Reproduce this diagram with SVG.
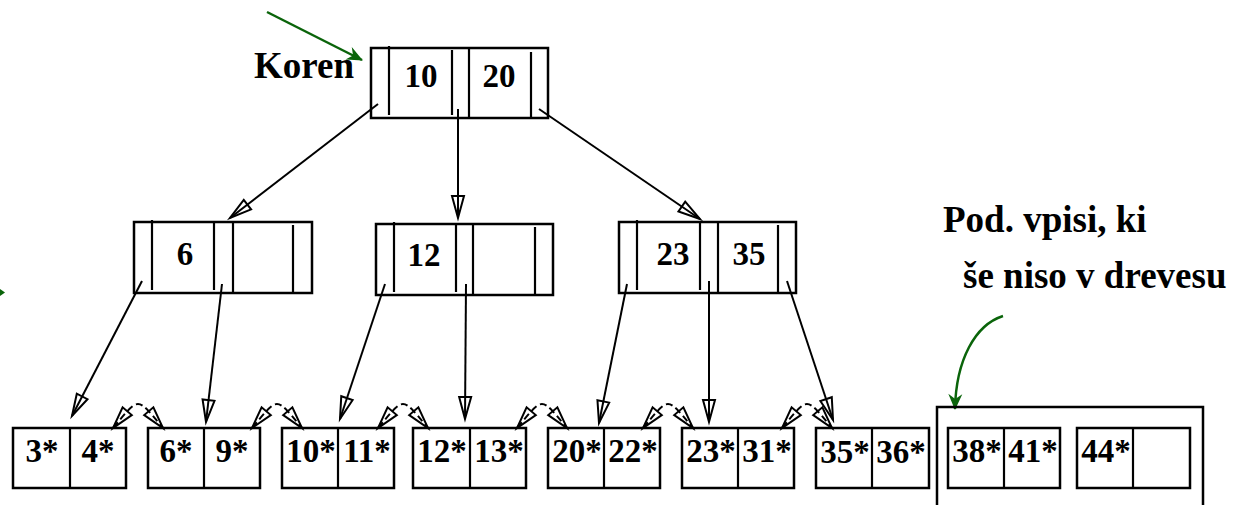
<svg xmlns="http://www.w3.org/2000/svg" width="1234" height="505" viewBox="0 0 1234 505">
<style>
.box{fill:none;stroke:#000;stroke-width:2.5}
.ln{stroke:#000;stroke-width:2.2;fill:none}
.num{font-family:"Liberation Serif","Times New Roman",serif;font-weight:bold;font-size:33px;text-anchor:middle;fill:#000}
.lbl{font-family:"Liberation Serif","Times New Roman",serif;font-weight:bold;font-size:37px;fill:#000}
.ptr{stroke:#000;stroke-width:2;fill:none;marker-end:url(#hollow)}
.arc{stroke:#000;stroke-width:2;fill:none;stroke-dasharray:7,4;marker-start:url(#hollowS);marker-end:url(#hollow)}
.grn{stroke:#0a640a;stroke-width:2.5;fill:none;marker-end:url(#garr)}
</style>
<defs>
<marker id="hollow" markerUnits="userSpaceOnUse" markerWidth="26" markerHeight="16" refX="23" refY="7" orient="auto" overflow="visible">
<path d="M1,1 L23,7 L1,13 Z" fill="none" stroke="#000" stroke-width="2"/>
</marker>
<marker id="hollowS" markerUnits="userSpaceOnUse" markerWidth="26" markerHeight="16" refX="23" refY="7" orient="auto-start-reverse" overflow="visible">
<path d="M1,1 L23,7 L1,13 Z" fill="none" stroke="#000" stroke-width="2"/>
</marker>
<marker id="garr" markerUnits="userSpaceOnUse" markerWidth="18" markerHeight="14" refX="15" refY="7" orient="auto" overflow="visible">
<path d="M0,0 L16,7 L0,14 L5,7 Z" fill="#0a640a"/>
</marker>
</defs>

<g id="connectors">
<line class="ptr" x1="378" y1="104" x2="230" y2="218"/>
<line class="ptr" x1="458" y1="109" x2="458" y2="218"/>
<line class="ptr" x1="539" y1="109" x2="700" y2="219"/>
<line class="ptr" x1="142" y1="281" x2="72" y2="416"/>
<line class="ptr" x1="222" y1="284" x2="206" y2="422"/>
<line class="ptr" x1="385" y1="284" x2="340" y2="419"/>
<line class="ptr" x1="466" y1="284" x2="465" y2="419"/>
<line class="ptr" x1="627" y1="284" x2="599" y2="423"/>
<line class="ptr" x1="709" y1="281" x2="709" y2="422"/>
<line class="ptr" x1="787" y1="281" x2="833" y2="420"/>
<path class="arc" d="M113,428 C140,396 136,396 163,428"/>
<path class="arc" d="M252,428 C279,396 275,396 302,428"/>
<path class="arc" d="M378,428 C405,396 401,396 428,428"/>
<path class="arc" d="M517,428 C544,396 540,396 567,428"/>
<path class="arc" d="M643,428 C670,396 666,396 693,428"/>
<path class="arc" d="M782,428 C809,396 805,396 832,428"/>
<line class="grn" x1="267" y1="12" x2="362" y2="60"/>
<path class="grn" d="M1003,316 C975,325 956,360 955,409"/>
<path d="M0,289 L5,292.5 L0,296 Z" fill="#0a640a"/>
</g>

<g id="label-koren"><text class="lbl" x="254" y="78">Koren</text></g>
<g id="label-pending">
<text class="lbl" x="943" y="232">Pod. vpisi, ki</text>
<text class="lbl" x="963" y="288">še niso v drevesu</text>
</g>

<g id="root">
<rect class="box" x="371" y="48" width="177" height="70"/>
<line class="ln" x1="389" y1="46" x2="389" y2="115"/>
<line class="ln" x1="452" y1="50" x2="452" y2="115"/>
<line class="ln" x1="469" y1="48" x2="469" y2="118"/>
<line class="ln" x1="531" y1="52" x2="531" y2="118"/>
<text class="num" x="421" y="87">10</text>
<text class="num" x="499" y="87">20</text>
</g>

<g id="inner-6">
<rect class="box" x="134" y="222" width="178" height="71"/>
<line class="ln" x1="152" y1="220" x2="152" y2="290"/>
<line class="ln" x1="214" y1="222" x2="214" y2="290"/>
<line class="ln" x1="233" y1="222" x2="233" y2="293"/>
<line class="ln" x1="293" y1="225" x2="293" y2="293"/>
<text class="num" x="185" y="265">6</text>
</g>

<g id="inner-12">
<rect class="box" x="376" y="224" width="177" height="71"/>
<line class="ln" x1="394" y1="222" x2="394" y2="292"/>
<line class="ln" x1="456" y1="224" x2="456" y2="292"/>
<line class="ln" x1="473" y1="224" x2="473" y2="295"/>
<line class="ln" x1="535" y1="227" x2="535" y2="295"/>
<text class="num" x="424" y="266">12</text>
</g>

<g id="inner-23-35">
<rect class="box" x="619" y="222" width="177" height="71"/>
<line class="ln" x1="637" y1="220" x2="637" y2="290"/>
<line class="ln" x1="700" y1="222" x2="700" y2="290"/>
<line class="ln" x1="718" y1="222" x2="718" y2="293"/>
<line class="ln" x1="778" y1="225" x2="778" y2="293"/>
<text class="num" x="673" y="265">23</text>
<text class="num" x="749" y="265">35</text>
</g>

<g id="leaf-1"><rect class="box" x="13" y="428" width="113" height="60"/><line class="ln" x1="70" y1="428" x2="70" y2="488"/><text class="num" x="42" y="462">3*</text><text class="num" x="98" y="462">4*</text></g>
<g id="leaf-2"><rect class="box" x="148" y="428" width="112" height="60"/><line class="ln" x1="204" y1="428" x2="204" y2="488"/><text class="num" x="176" y="462">6*</text><text class="num" x="232" y="462">9*</text></g>
<g id="leaf-3"><rect class="box" x="282" y="428" width="112" height="60"/><line class="ln" x1="338" y1="428" x2="338" y2="488"/><text class="num" x="311" y="462">10*</text><text class="num" x="367" y="462">11*</text></g>
<g id="leaf-4"><rect class="box" x="413" y="428" width="113" height="60"/><line class="ln" x1="470" y1="428" x2="470" y2="488"/><text class="num" x="442" y="462">12*</text><text class="num" x="499" y="462">13*</text></g>
<g id="leaf-5"><rect class="box" x="548" y="428" width="112" height="60"/><line class="ln" x1="604" y1="428" x2="604" y2="488"/><text class="num" x="577" y="462">20*</text><text class="num" x="633" y="462">22*</text></g>
<g id="leaf-6"><rect class="box" x="682" y="428" width="112" height="60"/><line class="ln" x1="738" y1="428" x2="738" y2="488"/><text class="num" x="711" y="462">23*</text><text class="num" x="767" y="462">31*</text></g>
<g id="leaf-7"><rect class="box" x="816" y="428" width="113" height="60"/><line class="ln" x1="872" y1="428" x2="872" y2="488"/><text class="num" x="845" y="463">35*</text><text class="num" x="901" y="463">36*</text></g>

<g id="pending-box">
<path class="box" d="M937,510 V407 H1203 V510"/>
</g>
<g id="leaf-8"><rect class="box" x="948" y="428" width="112" height="60"/><line class="ln" x1="1004" y1="428" x2="1004" y2="488"/><text class="num" x="977" y="462">38*</text><text class="num" x="1033" y="462">41*</text></g>
<g id="leaf-9"><rect class="box" x="1077" y="428" width="113" height="60"/><line class="ln" x1="1133" y1="428" x2="1133" y2="488"/><text class="num" x="1106" y="462">44*</text></g>
</svg>
